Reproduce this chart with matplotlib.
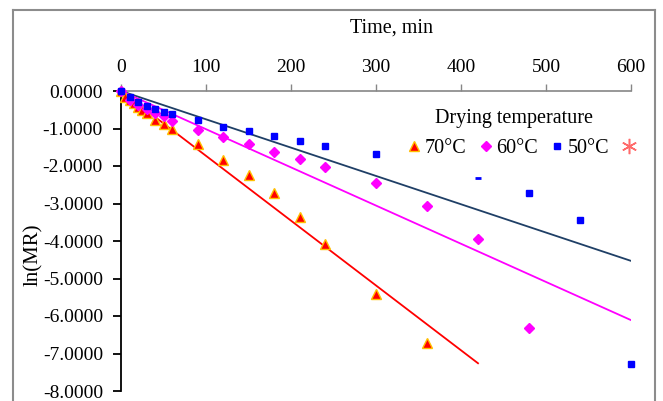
import matplotlib
matplotlib.use('Agg')
import numpy as np
import matplotlib.pyplot as plt
from matplotlib.lines import Line2D

plt.rcParams['font.family'] = ['Liberation Serif', 'DejaVu Serif']

# drying data, ln(MR) vs time
t70 = [0, 5, 10, 15, 20, 25, 30, 40, 50, 60, 90, 120, 150, 180, 210, 240, 300, 360]
v70 = [0, -0.15, -0.25, -0.33, -0.42, -0.50, -0.58, -0.76, -0.88, -1.02,
       -1.42, -1.84, -2.24, -2.72, -3.36, -4.07, -5.41, -6.73]

t60 = [0, 10, 20, 30, 40, 50, 60, 90, 120, 150, 180, 210, 240, 300, 360, 420, 480]
v60 = [0, -0.25, -0.38, -0.49, -0.58, -0.67, -0.79, -1.03, -1.23, -1.41,
       -1.63, -1.82, -2.03, -2.46, -3.07, -3.94, -6.33]

t50 = [0, 10, 20, 30, 40, 50, 60, 90, 120, 150, 180, 210, 240, 300, 420, 480, 540, 600]
v50 = [0, -0.15, -0.30, -0.40, -0.49, -0.55, -0.61, -0.77, -0.95, -1.07,
       -1.20, -1.33, -1.46, -1.69, -2.32, -2.73, -3.43, -7.29]

# fitted lines (end points)
fit70_t, fit70_v = [0, 420], [0, -7.26]
fit60_t, fit60_v = [0, 600], [0, -6.11]
fit50_t, fit50_v = [0, 600], [0, -4.53]

labels = ['70°C', '60°C', '50°C', '']

W, H = 663, 401
fig = plt.figure(figsize=(W / 100, H / 100), dpi=100)
ax = fig.add_axes([121 / W, 1 - 391 / H, 510 / W, 300 / H])

ax.plot(fit50_t, fit50_v, color='#1F3F66', lw=1.3)
ax.plot(fit60_t, fit60_v, color='#FF00FF', lw=1.3)
ax.plot(fit70_t, fit70_v, color='#FF0000', lw=1.3)

ax.plot(t70, v70, ls='none', marker='^', ms=7, mfc='#FF0000', mec='#FFC000',
        mew=1, clip_on=False, zorder=3)
ax.plot(t60, v60, ls='none', marker='D', ms=5, mfc='#FF00FF', mec='#FF00FF',
        clip_on=False, zorder=3)
t50a = np.array(t50)
v50a = np.array(v50)
odd = t50a == 420
ax.plot(t50a[~odd], v50a[~odd], ls='none', marker='s', ms=4.5, mfc='#0000FF',
        mec='#0000FF', clip_on=False, zorder=4)
ax.plot(t50a[odd], v50a[odd], ls='none', marker='_', ms=5, mec='#0000FF',
        mew=2, zorder=4)

ax.set_xlim(0, 600)
ax.set_ylim(-8, 0)
ax.set_xticks(np.arange(0, 601, 100))
ax.set_yticks(np.arange(-8, 1, 1))
ax.set_yticklabels([f'{v:.4f}' if v != 0 else '0.0000' for v in np.arange(-8, 1, 1)])

ax.xaxis.tick_top()
for s in ['right', 'bottom']:
    ax.spines[s].set_visible(False)
ax.spines['top'].set_color('#868686')
ax.spines['top'].set_linewidth(1.2)
ax.spines['left'].set_color('black')
ax.spines['left'].set_linewidth(1.3)
ax.tick_params(axis='x', direction='out', length=5, width=1, color='#868686',
               pad=6, labelsize=14)
ax.tick_params(axis='y', direction='out', length=6, width=1.3, color='black',
               pad=7, labelsize=14)
ax.patch.set_alpha(0)

fig.text(392 / W, 1 - 28 / H, 'Time, min', fontsize=14.5, ha='center', va='center')
fig.text(33 / W, 1 - 255 / H, 'ln(MR)', fontsize=15, ha='center', va='center',
         rotation=90)
fig.text(514 / W, 1 - 118 / H, 'Drying temperature', fontsize=14.5,
         ha='center', va='center')

handles = [
    Line2D([], [], ls='none', marker='^', ms=7, mfc='#FF0000', mec='#FFC000', mew=1),
    Line2D([], [], ls='none', marker='D', ms=5, mfc='#FF00FF', mec='#FF00FF'),
    Line2D([], [], ls='none', marker='s', ms=4.5, mfc='#0000FF', mec='#0000FF'),
    Line2D([], [], ls='none', marker=(6, 2, 0), ms=11, mec='#FF6B6B', mew=1.1),
]
fig.legend(handles, labels, ncol=4, loc='center left', frameon=False,
           bbox_to_anchor=(398 / W, 1 - 148 / H), borderpad=0,
           handlelength=0.6, handletextpad=0.2, columnspacing=0.68,
           fontsize=14.5)

# outer chart border (bottom edge is cut off in the original)
bx0, bx1, by = 12.5 / W, 655 / W, 1 - 10 / H
border = dict(color='#8C8C8C', lw=1.5, transform=fig.transFigure)
fig.add_artist(Line2D([bx0, bx1], [by, by], **border))
fig.add_artist(Line2D([bx0, bx0], [0, by], **border))
fig.add_artist(Line2D([bx1, bx1], [0, by], **border))

fig.savefig('out.png', dpi=100)
